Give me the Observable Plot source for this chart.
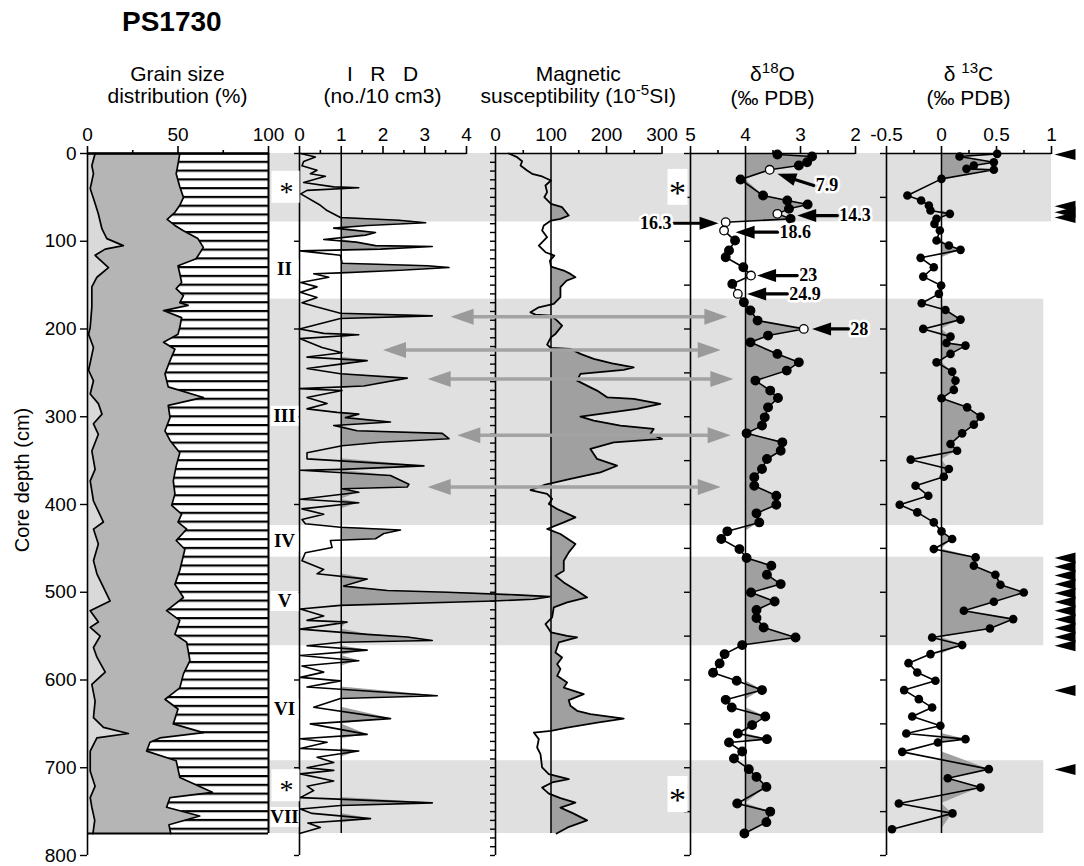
<!DOCTYPE html>
<html>
<head>
<meta charset="utf-8">
<script src="https://cdn.jsdelivr.net/npm/d3@7"></script>
<script src="https://cdn.jsdelivr.net/npm/@observablehq/plot@0.6"></script>
<style>
html,body{margin:0;padding:0;background:#fff;}
#fig{position:relative;width:1084px;height:866px;overflow:hidden;font-family:'Liberation Sans',Arial,Helvetica,sans-serif;color:#000;}
#fig svg{position:absolute;left:0;top:0;}
.title{position:absolute;left:122px;top:6px;font-size:28px;font-weight:bold;line-height:32px;}
.hdr{position:absolute;width:260px;text-align:center;font-size:21px;line-height:22px;top:63px;white-space:nowrap;}
.hdr sup{font-size:0.72em;vertical-align:baseline;position:relative;top:-0.55em;}
.ylab{position:absolute;width:300px;text-align:center;font-size:20px;line-height:22px;left:-128px;top:469px;transform:rotate(-90deg);}
</style>
</head>
<body>
<div id="fig"></div>
<script>
// ---------------- DATA ----------------
const coreBottom = 775;
// Grain size: lower boundary (first curve) and ~50% boundary (second curve)
const grainADepth = [0,14,23,40,57,69,86,97,105,109,116,130,141,152,175,198,206,221,247,259,274,285,297,308,320,339,360,373,396,420,428,445,464,479,510,521,534,540,550,563,574,591,605,624,643,654,661,666,681,704,721,734,745,760,775];
const grainAValue = [4.2,2.4,3.3,1.5,4.2,6,8,10.7,19.8,9.8,4.2,11.6,5.2,2.4,2.4,1.5,0.6,3.3,0.6,3.3,1.5,6,8,3.3,6,2.4,4.2,1.5,3.3,8.8,3.3,6,3.3,5.2,12.5,1.5,6,1.5,7,3.3,5.2,9.8,2.4,4.2,3.3,8.8,22.6,5.2,1.5,1.5,4.2,1.5,2.4,4,3];
const grainBDepth = [0,12,23,38,50,59,67,75,82,88,97,107,120,128,137,147,154,162,170,173,179,187,198,206,215,223,236,251,266,278,287,301,316,327,341,356,373,388,401,411,420,428,441,451,475,491,506,521,532,548,557,578,593,609,622,633,650,660,666,671,681,692,711,728,734,745,755,765,775];
const grainBValue = [51,50,49,51,53,51,48.3,44,48.3,53,61,64,60,50,51,52,49,53,51,55.6,42,52,51,50,42,48.3,45.6,42.8,44.6,64,44.6,45.6,42.8,45.6,51,49,47.4,48.3,46.5,52,50,54.8,49,53.8,51,48.3,53,43.7,51,48.3,54.8,56.6,53,51,42.8,50,47.4,64,40,34.5,32.7,49,51,69,45.6,43.7,62,45,46];

// IRD (no./10 cm3)
const irdDepth = [0,4,9,14,19,23,26,33,38,39,42,46,59,65,73,76,79,82,85,90,93,98,101,105,106,109,111,116,125,128,130,133,136,137,141,147,152,158,164,170,175,182,185,188,200,205,206.5,211,221,227,232,236,240,245,251,256,265,268,270,278,285,291,295,297,301,306,310,316,319,325,329,333,341,348,356,360,361,367,377,380,382,386,394,398,405,411,417,422,426,429,433,439,441,449,455,464,474,479,485,493,498,500,503,505,508,510,515,519,527,532,534,542,548,551,555,557,561,566,572,578,584,591,597,601,608,618,621,631,644,650,662,667,671,678,681,688,694,700,703,707,715,721,726,734,740,743,747,752,758,763,768,775];
const irdValue = [0.03,0.38,0.1,0.06,0.42,0.26,0.62,0.1,0.82,1.42,0.18,0.03,0.5,0.66,0.98,2.38,3.02,1.62,0.82,1.82,1.58,0.58,1.36,1.82,3.18,1.94,0.02,0.98,1.02,3.06,3.58,2.42,0.98,0.34,0.7,0.03,0.42,0.02,0.42,0.06,0.42,0.98,3.18,0.98,0,0.58,1.42,0.02,0.54,1.02,0.18,1.62,0.98,0.18,0.98,2.58,1.54,0,1.02,0.18,0.66,0.18,0.9,1.42,1.1,2.18,0.82,1.38,3.42,3.58,1.94,1.02,0.18,0.18,2.98,1.02,0.02,2.18,2.62,2.58,1.02,1.42,0.02,1.42,0.06,0.58,0.06,0.14,0.98,2.42,2.02,1.82,0.74,0.78,0.14,0.06,0.58,0.42,1.62,1.06,2.1,3.54,5.2,6.0,5.6,4.65,0.98,0.02,0.58,0.18,1.14,0.02,1.62,2.58,3.18,0.98,0.18,1.62,0.02,1.42,0.06,0.58,0.02,0.98,0.18,3.3,0.98,0.34,2.18,0.26,1.62,0.02,0.66,0.02,1.42,0.42,0.82,0.18,0.82,0.02,0.82,0.18,0.34,0.02,3.18,0.98,0.02,0.3,1.7,0.2,0.5,0];

// Magnetic susceptibility (10^-5 SI)
const magDepth = [0,4.2,8.8,13.7,19.4,23.2,26.2,30.8,36.5,44,49.8,57.4,61.2,70.7,74.5,76.4,82,87.8,95.4,104.9,112.5,116.3,122,128.8,133.4,137.2,141,144.8,152.4,163.8,171.4,175.3,181,183.6,184.7,190.4,196.1,205.6,209.4,217.8,221.6,222.7,228.4,234.1,239.1,243.7,246.6,251.2,258.8,266.5,270.2,277.9,279.7,285.4,291.1,299.9,304.4,310.1,313.9,319.6,325.3,329.2,336.7,348.1,355.8,363.4,370.9,377.4,383.5,388,393.7,399.4,405.1,414.7,420.4,427.9,433.6,445,454.6,464.1,475.5,481.2,488.8,498.3,505.9,511.6,517.3,528.7,536.3,542,545.8,549.6,551.5,557.2,568.6,574.3,581.9,587.6,595.2,602.9,608.6,616.1,623,629.4,635.1,638.9,643.9,648.5,654.2,657.9,659.9,667.4,676.9,684.5,699.7,707.3,713,716.8,722.6,729.4,734.7,739.7,745.4,752,760,768,775];
const magValue = [24,39,48,45,57,66,84,100,90,93,88,100,120,132,117,100,87,84,93,78,90,106,98,100,123,135,144,128,117,117,105,78,63,72,100,111,120,108,100,93,100,135,153,177,210,249,231,153,147,171,183,201,249,297,255,153,177,225,285,279,300,213,171,183,219,189,135,90,63,93,102,96,111,144,123,93,117,144,132,123,123,108,123,147,165,129,105,102,90,96,100,129,147,114,108,120,111,117,111,129,123,159,132,135,147,171,231,183,129,100,69,78,75,81,84,96,132,102,84,96,117,144,117,140,165,130,110];

// delta 18O (permil PDB); open = AMS 14C dated sample
const d18Depth = [1.1,3.4,9.9,13.7,18.6,29.6,47.9,53.6,58.2,63,68.8,74.5,78.3,87.8,99.2,110.6,118.2,129.6,139.1,148.6,160,169.6,179,190.4,199.9,207.5,215.2,228.4,238,247.4,258.8,270.2,278.6,289.3,300.7,310.1,318.9,329.2,338.7,348.1,359.5,369,378.6,390,400.2,410.1,420.4,430.6,439.4,450.8,461,469.8,480,490.7,500.2,510.5,520.3,529.4,540.1,551.5,560.2,570.5,581.2,591.8,600.9,611.5,622.6,631.4,641.6,651.4,661,667.4,671.3,681.5,689.5,701.6,710.4,721.8,740.8,750,762,775];
const d18Value = [3.42,2.79,2.88,3.03,3.56,4.09,3.68,3.24,2.87,3.21,3.42,3.18,4.36,4.39,4.19,4.30,4.36,4.04,3.90,4.24,4.14,4.03,3.91,3.78,2.94,3.59,3.91,3.42,3.03,3.25,3.82,3.55,3.41,3.59,3.65,3.70,3.98,3.33,3.36,3.61,3.70,3.84,3.84,3.44,3.44,3.80,3.75,4.33,4.44,4.11,3.98,3.53,3.61,3.36,3.90,3.47,3.80,3.80,3.67,3.09,4.06,4.38,4.47,4.59,4.16,3.70,4.36,4.25,3.64,3.88,4.14,3.61,4.30,4.06,4.21,3.94,3.80,3.62,4.15,3.55,3.62,4.02];
const d18OpenDepths = [18.6,68.8,78.3,87.8,139.1,160,199.9];

// delta 13C (permil PDB)
const d13Depth = [0.4,3.4,9.9,13.7,17.5,18.6,28.9,47.9,53.6,59.3,65,68.8,74.5,80.2,87.8,99.2,104.9,109.8,118.9,129.6,140.3,150.5,160,170.7,178.3,189.3,199.9,208.7,215.9,218.9,228.4,238,248.6,258.8,269.4,279,289.3,299.9,309,318.9,331,338.7,348.9,359.5,368.3,378.6,390,400.2,409,420.4,430.6,439.4,450.8,460.3,469.8,480,491.4,500.2,510.8,521.1,530.6,541.3,551.5,560.2,570.5,580.8,591.4,600.9,611.5,621.8,631.4,641.6,652.2,661,667.4,671.3,681.9,701.6,711.9,722.6,740.8,752,770];
const d13Value = [0.506,0.164,0.476,0.294,0.227,0.476,0,-0.31,-0.185,-0.115,-0.1,0.076,-0.045,-0.064,-0.015,-0.045,0.067,0.173,-0.19,-0.07,-0.166,-0.003,-0.024,-0.18,0.036,0.173,-0.166,0.082,0.045,0.218,0.082,-0.045,0.097,0.127,0.112,0,0.233,0.355,0.294,0.188,0.082,0.142,-0.28,0.067,0.021,-0.236,-0.12,-0.38,-0.22,-0.07,0,0.097,-0.07,0.31,0.294,0.49,0.536,0.748,0.476,0.203,0.652,0.44,-0.085,0.188,-0.1,-0.3,-0.22,-0.055,-0.34,-0.206,-0.085,-0.266,-0.01,-0.32,0.218,-0.033,-0.357,0.43,0.057,0.355,-0.388,0.1,-0.45];

// AMS 14C ages (ka) with arrows on the d18O panel
const kaLabel = ["7.9","14.3","16.3","18.6","23","24.9","28"];
const kaTipValue = [3.42,3.06,4.49,4.18,3.79,3.97,2.79];
const kaTipDepth = [23.2,70.7,79.5,89.7,139.1,160,199.9];
const kaTailValue = [2.76,2.33,5.31,3.42,3.06,3.24,2.13];
const kaTailDepth = [36.5,70.7,79.5,89.7,139.1,160,199.9];

// Correlation arrows (IRD value at left end, d18O value at right end)
const corrDepth = [186,224,257,321,380];
const corrIrdValue = [3.62,2.0,3.07,3.78,3.07];
const corrD18Value = [4.33,4.45,4.22,4.27,4.45];

// Black markers right of d13C panel
const markerDepth = [1,60,67,73,461,471,481,491,501,511,521,531,541,551,561,612,702];

// Grey intervals (depth) and right end (d13C units)
const bandTop = [0,166,460,692];
const bandBottom = [78,424,561,775];
const bandRight = [1.0,0.93,0.93,0.93];

// Zone labels
const zoneText = ["II","III","IV","V","VI","VII"];
const zoneDepth = [132,299,442,510,633,756];
const starDepth = [38,720];
const d18StarDepth = [38,730];

// Axis ticks
const yTicks100 = [0,100,200,300,400,500,600,700,800];
const yTicks50 = d3.range(0, 801, 50);
const yTicks10 = d3.range(0, 801, 10);
const yDomain = [0, 800];

// ---------------- HELPERS ----------------
const SANS = "'Liberation Sans', Arial, Helvetica, sans-serif";
const SERIF = "'Liberation Serif', 'Times New Roman', Times, serif";
const W = 1084, H = 866, MT = 153, MB = 11;
const SHADE = "#a0a0a0", BAND = "#e0e0e0", GRAYARROW = "#a3a3a3";
const mk = (ds, vs) => ds.map((d, i) => ({depth: d, v: vs[i]}));
const head = (len, hw) => ({draw(ctx) { ctx.moveTo(0, 0); ctx.lineTo(-hw, len); ctx.lineTo(hw, len); ctx.closePath(); }});
const box = (w, h) => ({draw(ctx) { ctx.rect(-w / 2, -h / 2, w, h); }});
const style = {background: "transparent", overflow: "visible", fontFamily: SANS, fontSize: "19px", color: "black"};

function panel(domain, left, right, marks) {
  return Plot.plot({
    width: W, height: H, marginTop: MT, marginBottom: MB, marginLeft: left, marginRight: W - right,
    x: {domain}, y: {domain: yDomain, reverse: true},
    style, marks
  });
}
function topAxis(majors, minors, fmt) {
  return [
    Plot.ruleY([0], {strokeWidth: 1.6}),
    Plot.axisX({anchor: "top", ticks: majors, tickSize: 8, tickPadding: 5, tickFormat: fmt || (d => String(d)), label: null, fontSize: 19, strokeWidth: 1.6}),
    Plot.axisX({anchor: "top", ticks: minors, tickSize: 4, tickFormat: () => "", label: null, strokeWidth: 1.6})
  ];
}
function leftAxis(x0, ticks, size, labelled) {
  return [
    Plot.ruleX([x0], {y1: 0, y2: 800, strokeWidth: 1.6}),
    Plot.axisY({anchor: "left", ticks, tickSize: size, tickPadding: 4, tickFormat: labelled ? (d => String(d)) : () => "", label: null, fontSize: 19, strokeWidth: 1.4})
  ];
}
const px = (p, v) => { const s = p.scale("x"); return s.apply ? s.apply(v) : d3.scaleLinear(s.domain, s.range)(v); };

// ---------------- PANELS ----------------
const grainA = mk(grainADepth, grainAValue);
const grainB = mk(grainBDepth, grainBValue);
const ird = mk(irdDepth, irdValue);
const mag = mk(magDepth, magValue);
const d18 = d18Depth.map((d, i) => ({depth: d, v: d18Value[i], open: d18OpenDepths.includes(d)}));
const d13 = mk(d13Depth, d13Value);

const grainPlot = panel([0, 100], 87, 268, [
  Plot.areaX(grainB, {y: "depth", x1: "v", x2: 100, fill: "url(#grainHatch)"}),
  Plot.areaX(grainB, {y: "depth", x1: 0, x2: "v", fill: "#b5b5b5"}),
  Plot.areaX(grainA, {y: "depth", x1: 0, x2: "v", fill: "#d9d9d9"}),
  Plot.line(grainB, {x: "v", y: "depth", strokeWidth: 1.7}),
  Plot.line(grainA, {x: "v", y: "depth", strokeWidth: 1.7}),
  Plot.ruleX([100], {y1: 0, y2: coreBottom, strokeWidth: 2}),
  Plot.ruleY([coreBottom], {x1: 0, x2: 100, strokeWidth: 2}),
  ...leftAxis(0, yTicks100, 7, true),
  ...topAxis([0, 50, 100], [25, 75]),
  Plot.ruleY([0], {strokeWidth: 2.5})
]);
{
  const ys = grainPlot.scale("y");
  const ya = v => ys.apply ? ys.apply(v) : d3.scaleLinear(ys.domain, ys.range)(v);
  const period = ya(10) - ya(0);
  const NS = "http://www.w3.org/2000/svg";
  const defs = document.createElementNS(NS, "defs");
  const pat = document.createElementNS(NS, "pattern");
  pat.setAttribute("id", "grainHatch");
  pat.setAttribute("patternUnits", "userSpaceOnUse");
  pat.setAttribute("width", 20);
  pat.setAttribute("height", period);
  pat.setAttribute("patternTransform", `translate(0,${ya(0) - 1})`);
  const bg = document.createElementNS(NS, "rect");
  bg.setAttribute("width", 20); bg.setAttribute("height", period); bg.setAttribute("fill", "white");
  const ln = document.createElementNS(NS, "rect");
  ln.setAttribute("width", 20); ln.setAttribute("height", 2.2); ln.setAttribute("fill", "black");
  pat.appendChild(bg); pat.appendChild(ln); defs.appendChild(pat);
  grainPlot.insertBefore(defs, grainPlot.firstChild);
}

const irdPlot = panel([0, 4], 299, 466, [
  Plot.areaX(ird, {y: "depth", x1: 1, x2: d => Math.max(1, d.v), fill: SHADE}),
  Plot.ruleX([1], {y1: 0, y2: coreBottom, strokeWidth: 1.5}),
  Plot.line(ird, {x: "v", y: "depth", strokeWidth: 1.6}),
  ...leftAxis(0, yTicks100, 5, false),
  ...topAxis([0, 1, 2, 3, 4], [0.5, 1.5, 2.5, 3.5]),
  Plot.dot(starDepth, {x: 0, y: d => d, dx: -14, symbol: box(28, 32), fill: "white", stroke: "none"}),
  Plot.dot(zoneText, {x: 0, y: (d, i) => zoneDepth[i], dx: -15, symbol: box(28, 20), fill: "white", stroke: "none"}),
  Plot.text(zoneText, {x: 0, y: (d, i) => zoneDepth[i], text: d => d, dx: -15, fontFamily: SERIF, fontWeight: "bold", fontSize: 19}),
  Plot.text(starDepth, {x: 0, y: d => d, text: () => "*", dx: -13, dy: 5, fontFamily: SERIF, fontSize: 28})
]);

const magPlot = panel([0, 300], 495, 661.5, [
  Plot.areaX(mag, {y: "depth", x1: 100, x2: d => Math.max(100, d.v), fill: SHADE}),
  Plot.ruleX([100], {y1: 0, y2: coreBottom, strokeWidth: 1.5}),
  Plot.line(mag, {x: "v", y: "depth", strokeWidth: 1.8}),
  ...leftAxis(0, yTicks10, 5, false),
  ...topAxis([0, 100, 200, 300], [50, 150, 250])
]);

// rotation of ka arrow heads from screen geometry of the d18O panel
const d18X = d3.scaleLinear([5, 2], [690, 855]);
const depthY = d3.scaleLinear(yDomain, [MT, H - MB]);
const ka = kaLabel.map((t, i) => {
  const dx = d18X(kaTipValue[i]) - d18X(kaTailValue[i]);
  const dy = depthY(kaTipDepth[i]) - depthY(kaTailDepth[i]);
  return {t, tipV: kaTipValue[i], tipD: kaTipDepth[i], tailV: kaTailValue[i], tailD: kaTailDepth[i],
          rot: Math.atan2(dy, dx) * 180 / Math.PI + 90, right: dx > 0};
});
const halo = {stroke: "white", strokeWidth: 5, paintOrder: "stroke", fill: "black"};

const d18Plot = panel([5, 2], 690, 855, [
  Plot.areaX(d18, {y: "depth", x1: 4, x2: d => Math.min(4, d.v), fill: SHADE}),
  Plot.ruleX([4], {y1: 0, y2: coreBottom, strokeWidth: 1.5}),
  Plot.line(d18, {x: "v", y: "depth", strokeWidth: 1.6}),
  Plot.dot(d18, {x: "v", y: "depth", r: 4.3, fill: d => d.open ? "white" : "black", stroke: "black", strokeWidth: 1.3}),
  ...leftAxis(5, yTicks50, 6, false),
  ...topAxis([5, 4, 3, 2], [4.5, 3.5, 2.5]),
  Plot.dot(d18StarDepth, {x: 5, y: d => d, dx: -13, symbol: box(20, 36), fill: "white", stroke: "none"}),
  Plot.text(d18StarDepth, {x: 5, y: d => d, text: () => "*", dx: -13, dy: 6, fontFamily: SERIF, fontSize: 34}),
  Plot.arrow(ka, {x1: "tailV", y1: "tailD", x2: "tipV", y2: "tipD", headLength: 0, insetEnd: 10, strokeWidth: 3.2, stroke: "black"}),
  Plot.dot(ka, {x: "tipV", y: "tipD", symbol: head(19, 6.5), rotate: "rot", fill: "black", stroke: "none"}),
  Plot.text(ka.filter(d => !d.right), {x: "tailV", y: "tailD", text: "t", textAnchor: "start", dx: 2, fontFamily: SERIF, fontWeight: "bold", fontSize: 18, ...halo}),
  Plot.text(ka.filter(d => d.right), {x: "tailV", y: "tailD", text: "t", textAnchor: "end", dx: -2, fontFamily: SERIF, fontWeight: "bold", fontSize: 18, ...halo})
]);

const d13Plot = panel([-0.5, 1], 886, 1051, [
  Plot.areaX(d13, {y: "depth", x1: 0, x2: d => Math.max(0, d.v), fill: SHADE}),
  Plot.ruleX([0], {y1: 0, y2: coreBottom, strokeWidth: 1.5}),
  Plot.line(d13, {x: "v", y: "depth", strokeWidth: 1.6}),
  Plot.dot(d13, {x: "v", y: "depth", r: 4.3, fill: "black"}),
  ...leftAxis(-0.5, yTicks50, 6, false),
  ...topAxis([-0.5, 0, 0.5, 1], [-0.25, 0.25, 0.75]),
  Plot.dot(markerDepth, {x: 1, y: d => d, dx: 3, symbol: head(21, 5.5), rotate: -90, fill: "black", stroke: "none"})
]);

// ---------------- OVERLAYS ----------------
const bands = bandTop.map((t, i) => ({top: t, bottom: bandBottom[i], x1: px(grainPlot, 100), x2: px(d13Plot, bandRight[i])}));
const bandPlot = Plot.plot({
  width: W, height: H, marginTop: MT, marginBottom: MB, marginLeft: 0, marginRight: 0,
  x: {type: "identity", axis: null}, y: {domain: yDomain, reverse: true, axis: null}, style,
  marks: [Plot.rect(bands, {x1: "x1", x2: "x2", y1: "top", y2: "bottom", fill: BAND})]
});

const corr = corrDepth.map((d, i) => ({depth: d, xl: px(irdPlot, corrIrdValue[i]), xr: px(d18Plot, corrD18Value[i])}));
const overlay = Plot.plot({
  width: W, height: H, marginTop: MT, marginBottom: MB, marginLeft: 0, marginRight: 0,
  x: {type: "identity", axis: null}, y: {domain: yDomain, reverse: true, axis: null}, style,
  marks: [
    Plot.arrow(corr, {x1: "xl", x2: "xr", y1: "depth", y2: "depth", headLength: 0, insetStart: 12, insetEnd: 12, stroke: GRAYARROW, strokeWidth: 3.5}),
    Plot.dot(corr, {x: "xl", y: "depth", symbol: head(23, 8), rotate: -90, fill: "#9a9a9a", stroke: "none"}),
    Plot.dot(corr, {x: "xr", y: "depth", symbol: head(23, 8), rotate: 90, fill: "#9a9a9a", stroke: "none"})
  ]
});

// ---------------- ASSEMBLE ----------------
const fig = document.getElementById("fig");
[bandPlot, grainPlot, irdPlot, magPlot, d18Plot, d13Plot, overlay].forEach(s => fig.appendChild(s));

const title = document.createElement("div");
title.className = "title"; title.textContent = "PS1730"; fig.appendChild(title);

const headers = [
  [grainPlot, 0, 100, "Grain size", "distribution (%)"],
  [irdPlot, 0, 4, "I&nbsp;&nbsp;&nbsp;R&nbsp;&nbsp;&nbsp;D", "(no./10 cm3)"],
  [magPlot, 0, 300, "Magnetic", "susceptibility (10<sup>-5</sup>SI)"],
  [d18Plot, 5, 2, "&delta;<sup>18</sup>O", "(&permil; PDB)"],
  [d13Plot, -0.5, 1, "&delta; <sup>13</sup>C", "(&permil; PDB)"]
];
headers.forEach(([p, a, b, l1, l2]) => {
  const cx = (px(p, a) + px(p, b)) / 2;
  const div = document.createElement("div");
  div.className = "hdr";
  div.style.left = (cx - 130) + "px";
  div.innerHTML = l1 + "<br>" + l2;
  fig.appendChild(div);
});
const yl = document.createElement("div");
yl.className = "ylab"; yl.textContent = "Core depth (cm)"; fig.appendChild(yl);
</script>
</body>
</html>
